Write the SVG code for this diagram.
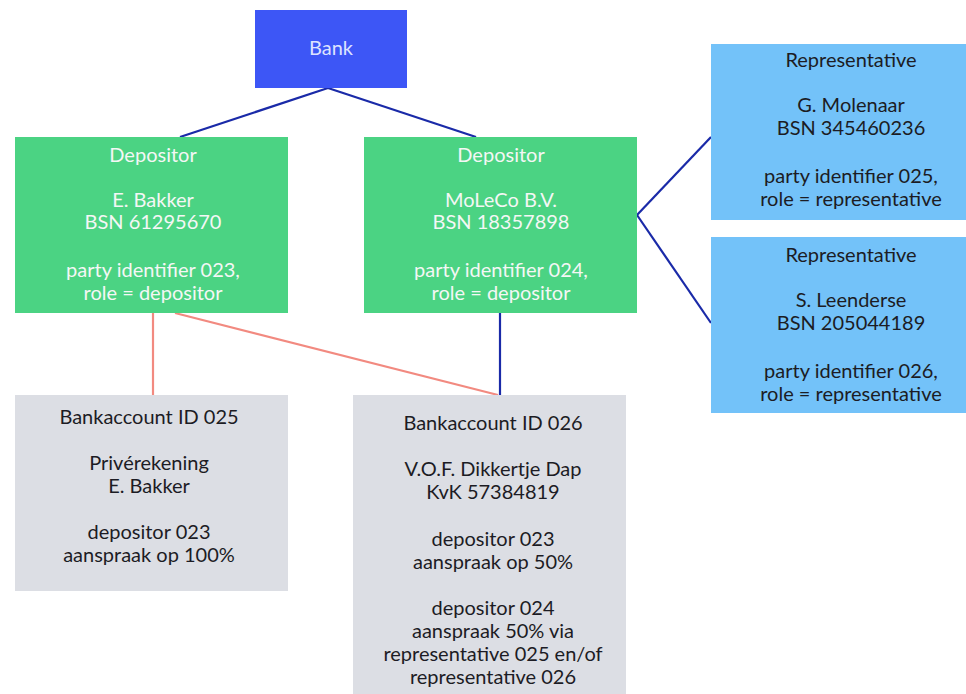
<svg xmlns="http://www.w3.org/2000/svg" width="966" height="694" viewBox="0 0 966 694">
<style>
text{font-family:Lato,"Open Sans","Liberation Sans",sans-serif;font-size:20px;text-anchor:middle}
.lt{fill:#f4f7f5}
.dk{fill:#1c1c24}
.bank{fill:#3d56f6}
.dep{fill:#4bd383}
.rep{fill:#73c2f9}
.acc{fill:#dcdee4}
.blue{stroke:#1a2aa8;stroke-width:2.2;fill:none}
.sal{stroke:#f28a80;stroke-width:2.2;fill:none}
</style>
<rect width="966" height="694" fill="#ffffff"/>
<g id="connectors">
<line class="blue" x1="328" y1="88" x2="180" y2="137"/>
<line class="blue" x1="328" y1="88" x2="476" y2="137"/>
<line class="blue" x1="637" y1="215" x2="711" y2="137"/>
<line class="blue" x1="637" y1="215" x2="711" y2="323"/>
<line class="blue" x1="500" y1="313" x2="500" y2="395"/>
<line class="sal" x1="153" y1="313" x2="153" y2="395"/>
<line class="sal" x1="175" y1="313" x2="498" y2="395"/>
</g>
<g id="bank">
<rect class="bank" x="255" y="10" width="152" height="78"/>
<text x="331" y="55" fill="#dde3ff">Bank</text>
</g>
<g id="depositor1">
<rect class="dep" x="15" y="137" width="273" height="176"/>
<text class="lt" x="153" y="162">Depositor</text>
<text class="lt" x="153" y="207">E. Bakker</text>
<text class="lt" x="153" y="229">BSN 61295670</text>
<text class="lt" x="153" y="277">party identifier 023,</text>
<text class="lt" x="153" y="300">role = depositor</text>
</g>
<g id="depositor2">
<rect class="dep" x="364" y="137" width="273" height="176"/>
<text class="lt" x="501" y="162">Depositor</text>
<text class="lt" x="501" y="207">MoLeCo B.V.</text>
<text class="lt" x="501" y="229">BSN 18357898</text>
<text class="lt" x="501" y="277">party identifier 024,</text>
<text class="lt" x="501" y="300">role = depositor</text>
</g>
<g id="representative1">
<rect class="rep" x="711" y="44" width="255" height="176"/>
<text class="dk" x="851" y="67">Representative</text>
<text class="dk" x="851" y="112">G. Molenaar</text>
<text class="dk" x="851" y="135">BSN 345460236</text>
<text class="dk" x="851" y="183">party identifier 025,</text>
<text class="dk" x="851" y="206">role = representative</text>
</g>
<g id="representative2">
<rect class="rep" x="711" y="237" width="255" height="176"/>
<text class="dk" x="851" y="262">Representative</text>
<text class="dk" x="851" y="307">S. Leenderse</text>
<text class="dk" x="851" y="330">BSN 205044189</text>
<text class="dk" x="851" y="378">party identifier 026,</text>
<text class="dk" x="851" y="401">role = representative</text>
</g>
<g id="account1">
<rect class="acc" x="15" y="395" width="273" height="196"/>
<text class="dk" x="149" y="424">Bankaccount ID 025</text>
<text class="dk" x="149" y="470">Privérekening</text>
<text class="dk" x="149" y="493">E. Bakker</text>
<text class="dk" x="149" y="539">depositor 023</text>
<text class="dk" x="149" y="562">aanspraak op 100%</text>
</g>
<g id="account2">
<rect class="acc" x="353" y="395" width="273" height="299"/>
<text class="dk" x="493" y="430">Bankaccount ID 026</text>
<text class="dk" x="493" y="476">V.O.F. Dikkertje Dap</text>
<text class="dk" x="493" y="499">KvK 57384819</text>
<text class="dk" x="493" y="546">depositor 023</text>
<text class="dk" x="493" y="569">aanspraak op 50%</text>
<text class="dk" x="493" y="615">depositor 024</text>
<text class="dk" x="493" y="638">aanspraak 50% via</text>
<text class="dk" x="493" y="661">representative 025 en/of</text>
<text class="dk" x="493" y="684">representative 026</text>
</g>
</svg>
